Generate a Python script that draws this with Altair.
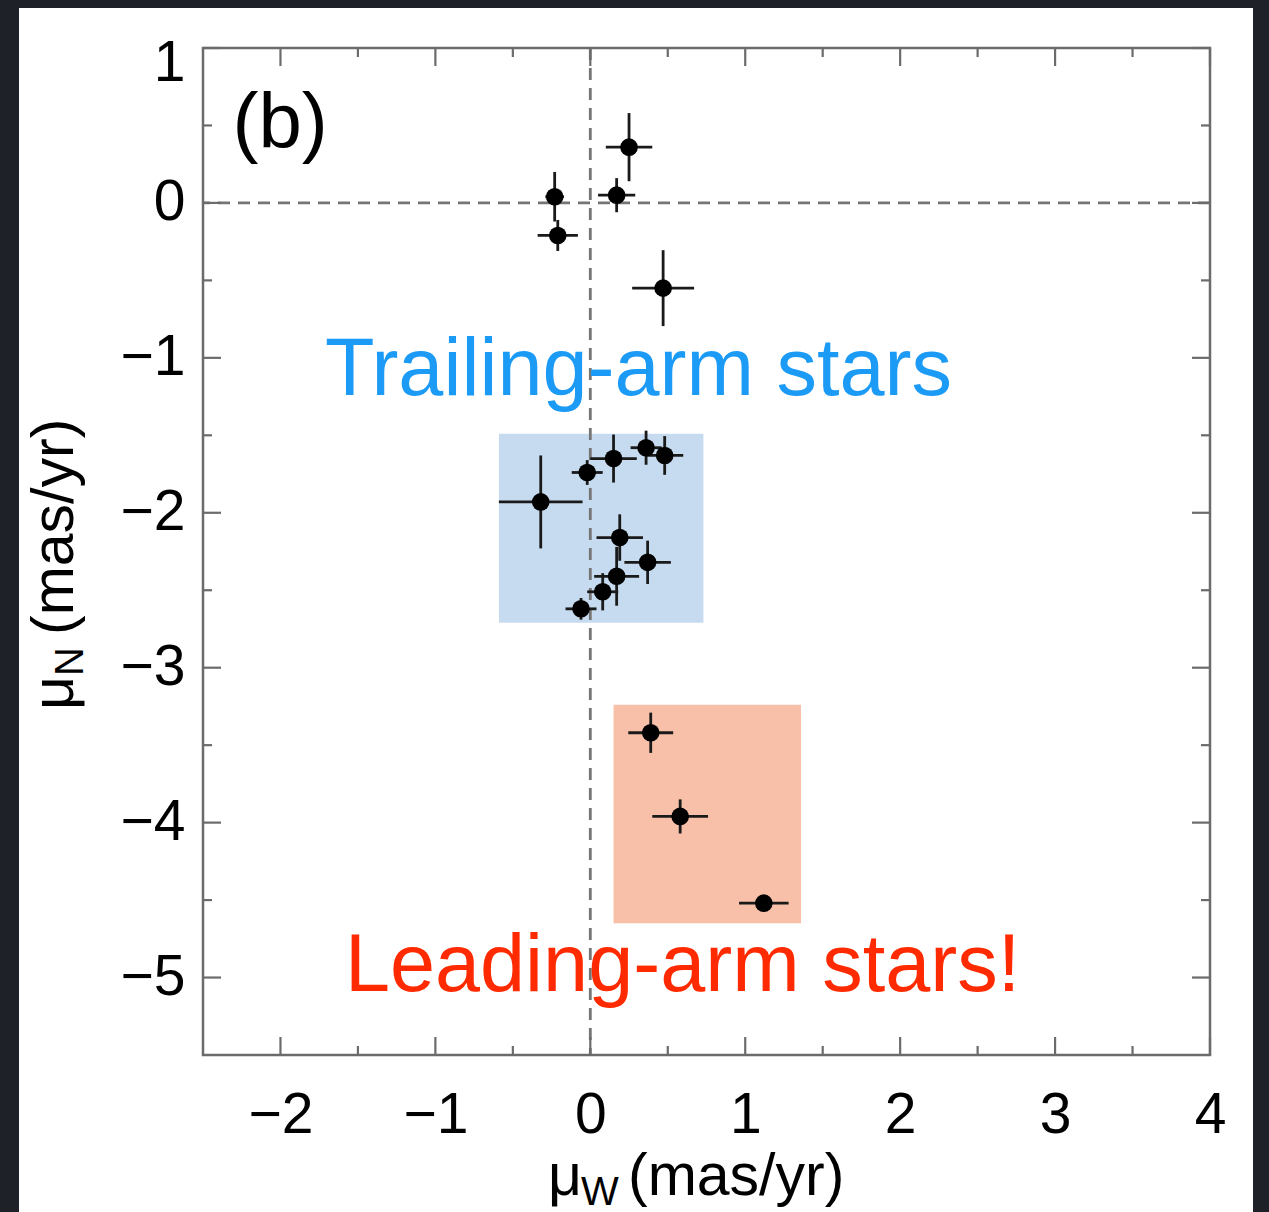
import altair as alt
import pandas as pd

# ---- data ----
mu_w = [0.25, 0.17, -0.23, -0.21, 0.47, 0.36, 0.48, 0.15, -0.02, -0.32,
        0.19, 0.37, 0.17, 0.08, -0.06, 0.39, 0.58, 1.12]
mu_n = [0.36, 0.05, 0.04, -0.21, -0.55, -1.58, -1.63, -1.65, -1.74, -1.93,
        -2.16, -2.32, -2.41, -2.51, -2.62, -3.42, -3.96, -4.52]
err_w = [0.15, 0.12, 0.06, 0.13, 0.20, 0.10, 0.12, 0.15, 0.10, 0.27,
         0.15, 0.15, 0.145, 0.10, 0.10, 0.145, 0.18, 0.16]
err_n = [0.22, 0.11, 0.16, 0.10, 0.245, 0.11, 0.125, 0.155, 0.08, 0.30,
         0.15, 0.14, 0.19, 0.12, 0.07, 0.13, 0.11, 0.04]

box_names = ["Trailing", "Leading"]
box_x0 = [-0.59, 0.15]
box_x1 = [0.73, 1.36]
box_y0 = [-2.71, -4.65]
box_y1 = [-1.49, -3.24]
box_colors = ["#c6dbef", "#f9c0a9"]

x_major = [-2, -1, 0, 1, 2, 3, 4]
x_minor = [-1.5, -0.5, 0.5, 1.5, 2.5, 3.5]
y_major = [-5, -4, -3, -2, -1, 0, 1]
y_minor = [-4.5, -3.5, -2.5, -1.5, -0.5, 0.5]

ann_text = ["Trailing-arm stars", "Leading-arm stars!", "(b)"]
ann_x = [-1.713, -1.584, -2.31]
ann_y = [-1.239, -5.09, 0.355]

W, H = 1007, 1007
FONT = "Liberation Sans"
FRAME = "#6b6b6b"

pts = pd.DataFrame({"w": mu_w, "n": mu_n, "ew": err_w, "en": err_n})
pts["w0"] = pts.w - pts.ew
pts["w1"] = pts.w + pts.ew
pts["n0"] = pts.n - pts.en
pts["n1"] = pts.n + pts.en

boxes = pd.DataFrame({"name": box_names, "x0": box_x0, "x1": box_x1,
                      "y0": box_y0, "y1": box_y1, "c": box_colors})

xscale = alt.Scale(domain=[-2.5, 4], nice=False, zero=False)
yscale = alt.Scale(domain=[-5.5, 1], nice=False, zero=False)

xaxis = alt.Axis(values=x_major, title=None, grid=False, domain=False, ticks=False,
                 tickSize=0, labelFontSize=57, labelFont=FONT, labelColor="black",
                 labelBaseline="alphabetic", labelPadding=77, labelFlush=False,
                 labelAlign="center", zindex=1)
yaxis = alt.Axis(values=y_major, title=None, grid=False, domain=False, ticks=False,
                 tickSize=0, labelFontSize=57, labelFont=FONT, labelColor="black",
                 labelBaseline="middle", labelPadding=18, labelFlush=False,
                 labelOffset={"condition": {"test": "datum.value == 1", "value": 15}, "value": 0},
                 zindex=1)


def X(f):
    return alt.X(f, type="quantitative", scale=xscale, axis=xaxis)


def Y(f):
    return alt.Y(f, type="quantitative", scale=yscale, axis=yaxis)


# white slide panel behind everything
panel = alt.Chart(pd.DataFrame({"a": [0]})).mark_rect(color="white").encode(
    x=alt.value(-184), x2=alt.value(1050), y=alt.value(-40), y2=alt.value(1164))

rects = alt.Chart(boxes).mark_rect().encode(
    x=X("x0"), x2="x1", y=Y("y0"), y2="y1",
    color=alt.Color("c:N", scale=None))

zero_v = alt.Chart(pd.DataFrame({"v": [0]})).mark_rule(
    color="#757575", strokeWidth=2.8, strokeDash=[12, 8]).encode(x=X("v"))
zero_h = alt.Chart(pd.DataFrame({"v": [0]})).mark_rule(
    color="#757575", strokeWidth=2.8, strokeDash=[12, 8]).encode(y=Y("v"))

ebx = alt.Chart(pts).mark_rule(color="#1a1a1a", strokeWidth=2.8).encode(
    x=X("w0"), x2="w1", y=Y("n"))
eby = alt.Chart(pts).mark_rule(color="#1a1a1a", strokeWidth=2.8).encode(
    x=X("w"), y=Y("n0"), y2="n1")
dots = alt.Chart(pts).mark_circle(color="black", opacity=1, size=310).encode(
    x=X("w"), y=Y("n"))

# frame
frame = alt.Chart(pd.DataFrame({"a": [-2.5], "b": [4], "c": [-5.5], "d": [1]})).mark_rect(
    fillOpacity=0, stroke=FRAME, strokeWidth=2.5).encode(
    x=X("a"), x2="b", y=Y("c"), y2="d")


# inward ticks
def xticks(vals, L):
    df = pd.DataFrame({"t": vals})
    b = alt.Chart(df).mark_rule(color=FRAME, strokeWidth=2.2).encode(
        x=X("t"), y=alt.value(H), y2=alt.value(H - L))
    t = alt.Chart(df).mark_rule(color=FRAME, strokeWidth=2.2).encode(
        x=X("t"), y=alt.value(0), y2=alt.value(L))
    return b + t


def yticks(vals, L):
    df = pd.DataFrame({"t": vals})
    l = alt.Chart(df).mark_rule(color=FRAME, strokeWidth=2.2).encode(
        y=Y("t"), x=alt.value(0), x2=alt.value(L))
    r = alt.Chart(df).mark_rule(color=FRAME, strokeWidth=2.2).encode(
        y=Y("t"), x=alt.value(W), x2=alt.value(W - L))
    return l + r


ticks = xticks(x_major, 18) + xticks(x_minor, 9) + yticks(y_major, 18) + yticks(y_minor, 9)

ann = pd.DataFrame({"t": ann_text, "x": ann_x, "y": ann_y})
trail = alt.Chart(ann.iloc[[0]]).mark_text(
    align="left", baseline="alphabetic", fontSize=81, font=FONT, color="#1c9bf6").encode(
    x=X("x"), y=Y("y"), text="t")
lead = alt.Chart(ann.iloc[[1]]).mark_text(
    align="left", baseline="alphabetic", fontSize=81, font=FONT, color="#ff2a00").encode(
    x=X("x"), y=Y("y"), text="t")
blab = alt.Chart(ann.iloc[[2]]).mark_text(
    align="left", baseline="alphabetic", fontSize=78, font=FONT, color="black").encode(
    x=X("x"), y=Y("y"), text="t")


# axis titles (mu with subscript)
def txt(s, x, y, size, angle=0):
    return alt.Chart(pd.DataFrame({"s": [s]})).mark_text(
        align="left", baseline="alphabetic", fontSize=size, font=FONT, color="black",
        angle=angle).encode(x=alt.value(x), y=alt.value(y), text="s")


xt = txt("μ", 345, 1147, 59) + txt("W", 378, 1157, 40) + txt("(mas/yr)", 425, 1147, 59)
yt = txt("μ", -130, 662, 59, 270) + txt("N", -120, 628, 40, 270) + txt("(mas/yr)", -130, 587, 59, 270)

chart = alt.layer(
    panel, rects, zero_v, zero_h, ebx, eby, dots, frame, ticks, trail, lead, blab, xt, yt
).properties(
    width=W, height=H,
    autosize=alt.AutoSizeParams(type="none"),
    padding={"left": 203, "top": 48, "right": 59, "bottom": 157},
    background="#1e2127",
).configure_view(stroke=None)

chart.save("out.html", embed_options={"renderer": "svg", "actions": False})
